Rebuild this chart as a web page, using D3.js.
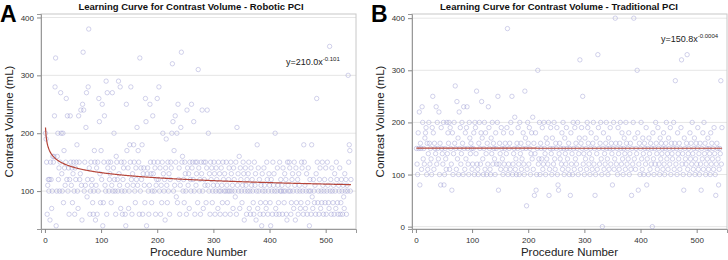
<!DOCTYPE html>
<html>
<head>
<meta charset="utf-8">
<script src="https://cdn.jsdelivr.net/npm/d3@7"></script>
<style>
  body { margin: 0; background: #fff; }
  svg { font-family: "Liberation Sans", Arial, sans-serif; }
  .tick text { fill: #333; font-size: 8px; }
  .tick line { stroke: #888; }
</style>
</head>
<body>
<div id="chart-area"></div>
<script>
// contrast volume (mL) per procedure, robotic PCI (procedure 1..545)
const roboticVol = [
  200,190,150,60,110,120,100,120,50,150,120,70,100,160,150,160,230,280,330,40,
  100,160,200,120,140,100,150,270,200,130,100,200,80,170,140,110,150,260,120,230,
  100,140,60,120,230,150,110,140,80,130,150,100,60,140,120,150,180,100,70,230,
  150,120,130,240,110,50,250,340,240,100,150,110,210,270,90,120,280,380,140,60,
  100,150,110,120,80,60,100,170,150,50,110,140,60,150,100,260,220,130,80,170,
  120,250,40,80,150,230,110,100,290,60,270,140,150,100,120,130,150,80,110,270,
  100,140,200,120,100,60,160,150,120,100,290,130,110,280,70,150,100,60,120,140,
  150,100,60,40,250,170,110,140,70,100,180,150,280,120,60,130,110,180,150,100,
  80,140,120,210,110,170,150,60,330,100,140,120,180,60,130,140,110,80,260,220,
  40,130,140,100,60,110,250,150,130,80,100,230,130,150,100,140,60,110,120,260,
  150,120,280,100,140,60,110,80,150,200,130,100,120,50,140,190,110,80,150,100,
  130,60,120,150,140,200,320,220,100,170,110,230,150,90,200,80,250,120,140,60,
  110,210,340,150,160,100,120,80,150,130,100,60,240,140,110,130,70,150,120,100,
  250,140,150,120,220,100,60,150,110,130,150,80,310,140,100,120,60,150,130,240,
  100,70,150,120,110,150,80,140,240,110,200,100,130,60,150,120,140,80,100,110,
  150,130,60,100,140,120,110,70,150,100,130,60,100,140,110,80,150,120,100,130,
  60,100,150,110,80,100,120,140,100,60,150,130,100,110,70,140,120,100,90,150,
  60,210,110,130,100,160,70,140,120,100,80,110,150,130,50,100,140,110,60,120,
  100,130,150,70,100,60,140,110,120,100,80,60,150,110,130,50,100,180,70,140,
  100,120,60,80,110,40,130,100,60,140,110,100,80,70,150,120,60,100,130,110,
  80,40,120,100,60,150,110,130,100,200,70,60,100,140,110,80,60,150,100,120,
  100,110,60,140,100,80,130,100,120,60,50,150,110,100,150,140,100,60,80,120,
  130,100,70,150,110,50,140,80,100,120,60,130,110,100,70,80,150,140,100,60,
  180,150,110,70,100,130,60,80,140,100,40,120,100,60,180,90,70,120,100,80,
  110,60,130,260,150,80,100,60,120,140,70,100,80,150,110,60,100,120,80,140,
  60,100,150,110,80,70,350,100,120,60,140,100,80,110,60,130,100,70,150,120,
  80,60,110,100,140,60,80,120,100,60,110,90,70,130,100,120,60,110,100,300,
  150,180,170,100,120
];

// contrast volume (mL) per procedure, traditional PCI (procedure 1..545)
const traditionalVol = [
  150,120,100,180,150,220,80,160,150,110,230,200,130,150,120,170,180,190,100,160,
  110,140,200,160,120,150,130,100,190,250,180,110,160,150,140,230,120,200,150,130,
  220,100,160,80,190,150,140,120,200,80,100,150,130,110,200,140,180,160,200,110,
  190,150,120,70,180,100,140,200,160,270,150,110,240,130,170,100,220,150,190,120,
  140,200,160,100,230,150,110,180,130,190,230,150,120,100,200,170,140,160,150,110,
  120,150,180,100,200,190,140,260,120,110,100,160,200,150,120,180,240,170,130,100,
  150,200,110,180,140,100,160,120,230,190,150,110,100,170,140,200,120,160,150,130,
  100,180,150,120,200,250,70,120,160,140,110,190,150,130,100,180,120,150,160,110,
  140,190,380,100,120,150,160,110,200,180,250,100,120,140,150,210,110,130,100,160,
  150,190,120,100,200,140,160,110,130,150,180,120,100,260,170,150,40,110,200,160,
  120,190,150,100,140,180,130,210,110,160,60,140,180,70,100,150,300,120,130,200,
  100,160,150,130,190,110,120,200,150,140,100,170,130,160,120,200,60,110,150,190,
  140,100,170,150,120,200,130,110,160,150,190,100,80,70,140,160,130,150,120,180,
  110,200,150,100,170,140,120,190,150,130,110,160,100,150,60,180,120,140,100,200,
  150,110,190,130,160,120,150,200,100,140,170,320,110,160,190,150,250,120,140,100,
  170,130,150,110,200,190,160,120,140,100,150,180,130,110,160,200,120,150,60,100,
  170,140,110,330,190,150,120,160,200,130,100,0,150,180,110,140,120,160,200,150,
  130,100,170,110,150,190,120,160,140,80,150,200,110,130,400,160,120,150,100,190,
  140,110,160,200,150,120,180,130,100,150,170,140,110,200,160,120,150,130,180,100,
  140,160,110,60,150,120,200,400,130,170,110,150,140,300,180,70,120,160,100,150,
  200,130,110,170,140,100,160,150,120,190,80,130,150,100,170,140,110,160,120,150,
  0,180,130,100,150,120,200,160,140,110,190,150,120,100,170,130,160,140,150,110,
  180,120,100,150,160,200,130,140,110,170,150,120,190,100,160,140,130,150,200,110,
  160,280,120,150,100,180,140,130,160,110,150,190,320,120,140,100,70,170,150,130,
  120,160,330,110,140,150,100,180,130,160,120,200,140,110,150,170,100,130,160,120,
  150,190,110,140,100,160,120,70,150,130,180,110,200,140,160,100,120,150,130,170,
  110,150,140,100,180,120,160,130,150,110,190,140,100,60,120,160,150,130,80,110,
  150,140,280,120,190
];

// power-law fits shown on the chart: y = a * x^b
const roboticFit = [210.0, -0.101];
const traditionalFit = [150.8, -0.0004];

const xTicks = [0, 100, 200, 300, 400, 500];
const yTicksA = [100, 200, 300, 400];
const yTicksB = [0, 100, 200, 300, 400];

const svg = d3.select('#chart-area')
  .append('svg')
  .attr('width', 728)
  .attr('height', 260);

function panel(opts) {
  const {left, letter, letterX, title, titleX, vals, fit, yDomain, yTicks, eqX, eqY} = opts;
  const top = 14, bottom = 229, width = 315;

  const x = d3.scaleLinear().domain([-7, 554]).range([left, left + width]);
  const y = d3.scaleLinear().domain(yDomain).range([bottom, top]);

  // grid
  svg.append('g')
    .selectAll('line')
    .data(yTicks)
    .enter().append('line')
    .attr('x1', left).attr('x2', left + width)
    .attr('y1', d => y(d)).attr('y2', d => y(d))
    .attr('stroke', '#e6e6e6')
    .attr('stroke-width', 1);

  // frame
  svg.append('rect')
    .attr('x', left).attr('y', top)
    .attr('width', width).attr('height', bottom - top)
    .attr('fill', 'none')
    .attr('stroke', '#c8c8c8');

  const xAxis = svg.append('g')
    .attr('transform', `translate(0, ${bottom})`)
    .call(d3.axisBottom(x).tickValues(xTicks).tickSize(4).tickPadding(4));
  xAxis.select('.domain').attr('stroke', '#999');

  const yAxis = svg.append('g')
    .attr('transform', `translate(${left}, 0)`)
    .call(d3.axisLeft(y).tickValues(yTicks).tickSize(4).tickPadding(3));
  yAxis.select('.domain').attr('stroke', '#999');

  // points
  svg.append('g')
    .selectAll('circle')
    .data(vals)
    .enter().append('circle')
    .attr('cx', (d, i) => x(i + 1))
    .attr('cy', d => y(d))
    .attr('r', 2.2)
    .attr('fill', 'none')
    .attr('stroke', '#9a9ad2')
    .attr('stroke-opacity', 0.6)
    .attr('stroke-width', 0.75);

  // fitted curve
  const xs = d3.range(1, vals.length + 1);
  const line = d3.line()
    .x(d => x(d))
    .y(d => y(fit[0] * Math.pow(d, fit[1])));
  svg.append('path')
    .datum(xs)
    .attr('d', line)
    .attr('fill', 'none')
    .attr('stroke', '#b5453a')
    .attr('stroke-width', 1.2);

  // equation
  const eq = svg.append('text')
    .attr('x', eqX).attr('y', eqY)
    .attr('font-size', '9px')
    .attr('fill', '#222')
    .text(`y=${fit[0].toFixed(1)}x`);
  eq.append('tspan')
    .attr('dy', -4)
    .attr('font-size', '6px')
    .text(fit[1].toString());

  // title and letter
  svg.append('text')
    .attr('x', titleX).attr('y', 10)
    .attr('text-anchor', 'middle')
    .attr('font-size', '9.5px')
    .attr('font-weight', 'bold')
    .attr('fill', '#111')
    .text(title);

  svg.append('text')
    .attr('x', letterX).attr('y', 22)
    .attr('font-size', '23px')
    .attr('font-weight', 'bold')
    .attr('fill', '#000')
    .text(letter);

  // axis labels
  svg.append('text')
    .attr('x', (left + left + width) / 2)
    .attr('y', 256)
    .attr('text-anchor', 'middle')
    .attr('font-size', '11.5px')
    .attr('fill', '#222')
    .text('Procedure Number');

  svg.append('text')
    .attr('transform', `translate(${left - 28}, ${(top + bottom) / 2}) rotate(-90)`)
    .attr('text-anchor', 'middle')
    .attr('font-size', '11.5px')
    .attr('fill', '#222')
    .text('Contrast Volume (mL)');
}

panel({
  left: 41, letter: 'A', letterX: 0,
  title: 'Learning Curve for Contrast Volume - Robotic PCI', titleX: 191,
  vals: roboticVol, fit: roboticFit,
  yDomain: [34.5, 406], yTicks: yTicksA,
  eqX: 286, eqY: 65
});

panel({
  left: 412, letter: 'B', letterX: 371,
  title: 'Learning Curve for Contrast Volume - Traditional PCI', titleX: 559,
  vals: traditionalVol, fit: traditionalFit,
  yDomain: [-4.5, 408], yTicks: yTicksB,
  eqX: 661, eqY: 42
});
</script>
</body>
</html>
